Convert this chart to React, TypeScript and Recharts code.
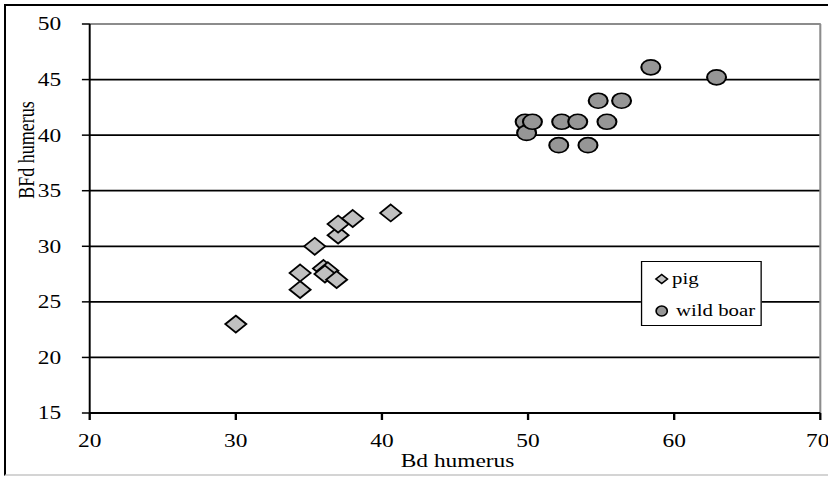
import { ScatterChart, Scatter, XAxis, YAxis, CartesianGrid, ReferenceLine, Legend, Label } from 'recharts';

const seriesNames = ['pig', 'wild boar'];
const xTicks = [20, 30, 40, 50, 60, 70];
const yTicks = [15, 20, 25, 30, 35, 40, 45, 50];

// pig: Bd (x) / BFd (y)
const pigBd = [30.0, 34.4, 34.4, 35.4, 36.0, 36.3, 36.1, 36.9, 37.0, 37.0, 38.0, 40.6];
const pigBFd = [23.0, 26.1, 27.6, 30.0, 28.0, 27.8, 27.5, 27.0, 31.0, 32.0, 32.5, 33.0];

// wild boar
const boarBd = [49.8, 49.9, 50.3, 52.1, 52.3, 53.4, 54.1, 54.8, 55.4, 56.4, 58.4, 62.9];
const boarBFd = [41.2, 40.2, 41.2, 39.1, 41.2, 41.2, 39.1, 43.1, 41.2, 43.1, 46.1, 45.2];

const pigData = pigBd.map((x, i) => ({ bd: x, bfd: pigBFd[i] }));
const boarData = boarBd.map((x, i) => ({ bd: x, bfd: boarBFd[i] }));

const FONT = '"Liberation Serif", "Times New Roman", serif';
// the original picture is a little wider than it is tall, so the chart is stretched sideways
const STRETCH = 1.3;

function Diamond(props: any) {
  const { cx, cy } = props;
  const w = 8.1;
  const h = 8.5;
  return (
    <polygon
      points={`${cx},${cy - h} ${cx + w},${cy} ${cx},${cy + h} ${cx - w},${cy}`}
      fill="#c0c0c0"
      stroke="#000"
      strokeWidth={1.6}
    />
  );
}

function Dot(props: any) {
  const { cx, cy } = props;
  return <ellipse cx={cx} cy={cy} rx={7.3} ry={7.5} fill="#969696" stroke="#000" strokeWidth={1.6} />;
}

function XTick(props: any) {
  return (
    <text x={props.x} y={props.y} dy="0.71em" textAnchor="middle" fontSize={18} fontFamily={FONT} fill="#000">
      {props.payload.value}
    </text>
  );
}

function YTick(props: any) {
  return (
    <text x={props.x} y={props.y} dy="0.355em" textAnchor="end" fontSize={18} fontFamily={FONT} fill="#000">
      {props.payload.value}
    </text>
  );
}

function LegendBox(props: any) {
  const items = props.payload || [];
  const rows = [17.3, 49];
  return (
    <div
      style={{
        position: 'relative',
        width: 93,
        height: 65,
        boxSizing: 'border-box',
        border: '1.6px solid #000',
        background: '#fff',
        fontFamily: FONT,
        fontSize: 16,
        color: '#000',
      }}
    >
      {items.map((item: any, i: number) => (
        <div
          key={item.value}
          style={{ position: 'absolute', left: 0, top: rows[i] - 10, height: 20, display: 'flex', alignItems: 'center', whiteSpace: 'nowrap' }}
        >
          <svg width={12} height={12} style={{ marginLeft: 9, marginRight: item.value === 'pig' ? 2 : 5 }}>
            {item.value === 'pig' ? (
              <polygon points="6,1.5 10.5,6 6,10.5 1.5,6" fill="#c0c0c0" stroke="#000" strokeWidth={1.3} />
            ) : (
              <ellipse cx={6} cy={6} rx={4.3} ry={5} fill="#969696" stroke="#000" strokeWidth={1.3} />
            )}
          </svg>
          <span>{item.value}</span>
        </div>
      ))}
    </div>
  );
}

export default function App() {
  return (
    <div style={{ position: 'absolute', left: 0, top: 0, width: 828, height: 477, background: '#fff', overflow: 'hidden' }}>
      <div
        style={{
          position: 'absolute',
          left: 4,
          top: 4,
          width: 840,
          height: 472,
          boxSizing: 'border-box',
          border: '2px solid #000',
          borderBottomColor: '#d4d4d4',
        }}
      />
      <div
        style={{
          position: 'absolute',
          left: 0,
          top: 0,
          width: 637,
          height: 477,
          transform: `scaleX(${STRETCH})`,
          transformOrigin: '0 0',
          fontFamily: FONT,
        }}
      >
        <ScatterChart width={637} height={477} margin={{ top: 24, right: 6, bottom: 24, left: 0 }}>
          <CartesianGrid vertical={false} stroke="#000" strokeWidth={1.8} />
          <XAxis
            type="number"
            dataKey="bd"
            domain={[20, 70]}
            ticks={xTicks}
            height={40}
            stroke="#000"
            strokeWidth={1.8}
            tickSize={7}
            tickMargin={14}
            tick={<XTick />}
          >
            <Label
              value="Bd humerus"
              content={(p: any) => (
                <text
                  x={p.viewBox.x + p.viewBox.width / 2 + 2}
                  y={p.viewBox.y + 53.7}
                  textAnchor="middle"
                  fontSize={18}
                  fontFamily={FONT}
                  fill="#000"
                >
                  Bd humerus
                </text>
              )}
            />
          </XAxis>
          <YAxis
            type="number"
            dataKey="bfd"
            domain={[15, 50]}
            ticks={yTicks}
            width={69}
            stroke="#000"
            strokeWidth={1.5}
            tickSize={6}
            tickMargin={16}
            tick={<YTick />}
          >
            <Label
              value="BFd humerus"
              content={() => (
                <text
                  x={26}
                  y={150}
                  transform="rotate(-90 26 150)"
                  textAnchor="middle"
                  fontSize={18}
                  fontFamily={FONT}
                  fill="#000"
                >
                  BFd humerus
                </text>
              )}
            />
          </YAxis>
          <ReferenceLine y={50} stroke="#8c8c8c" strokeWidth={2} />
          <ReferenceLine x={70} stroke="#8c8c8c" strokeWidth={1.6} />
          <Legend
            layout="horizontal"
            verticalAlign="middle"
            content={<LegendBox />}
            wrapperStyle={{ position: 'absolute', left: 493, top: 261, width: 93, height: 65 }}
          />
          <Scatter name={seriesNames[0]} data={pigData} shape={<Diamond />} isAnimationActive={false} />
          <Scatter name={seriesNames[1]} data={boarData} shape={<Dot />} isAnimationActive={false} />
        </ScatterChart>
      </div>
    </div>
  );
}
